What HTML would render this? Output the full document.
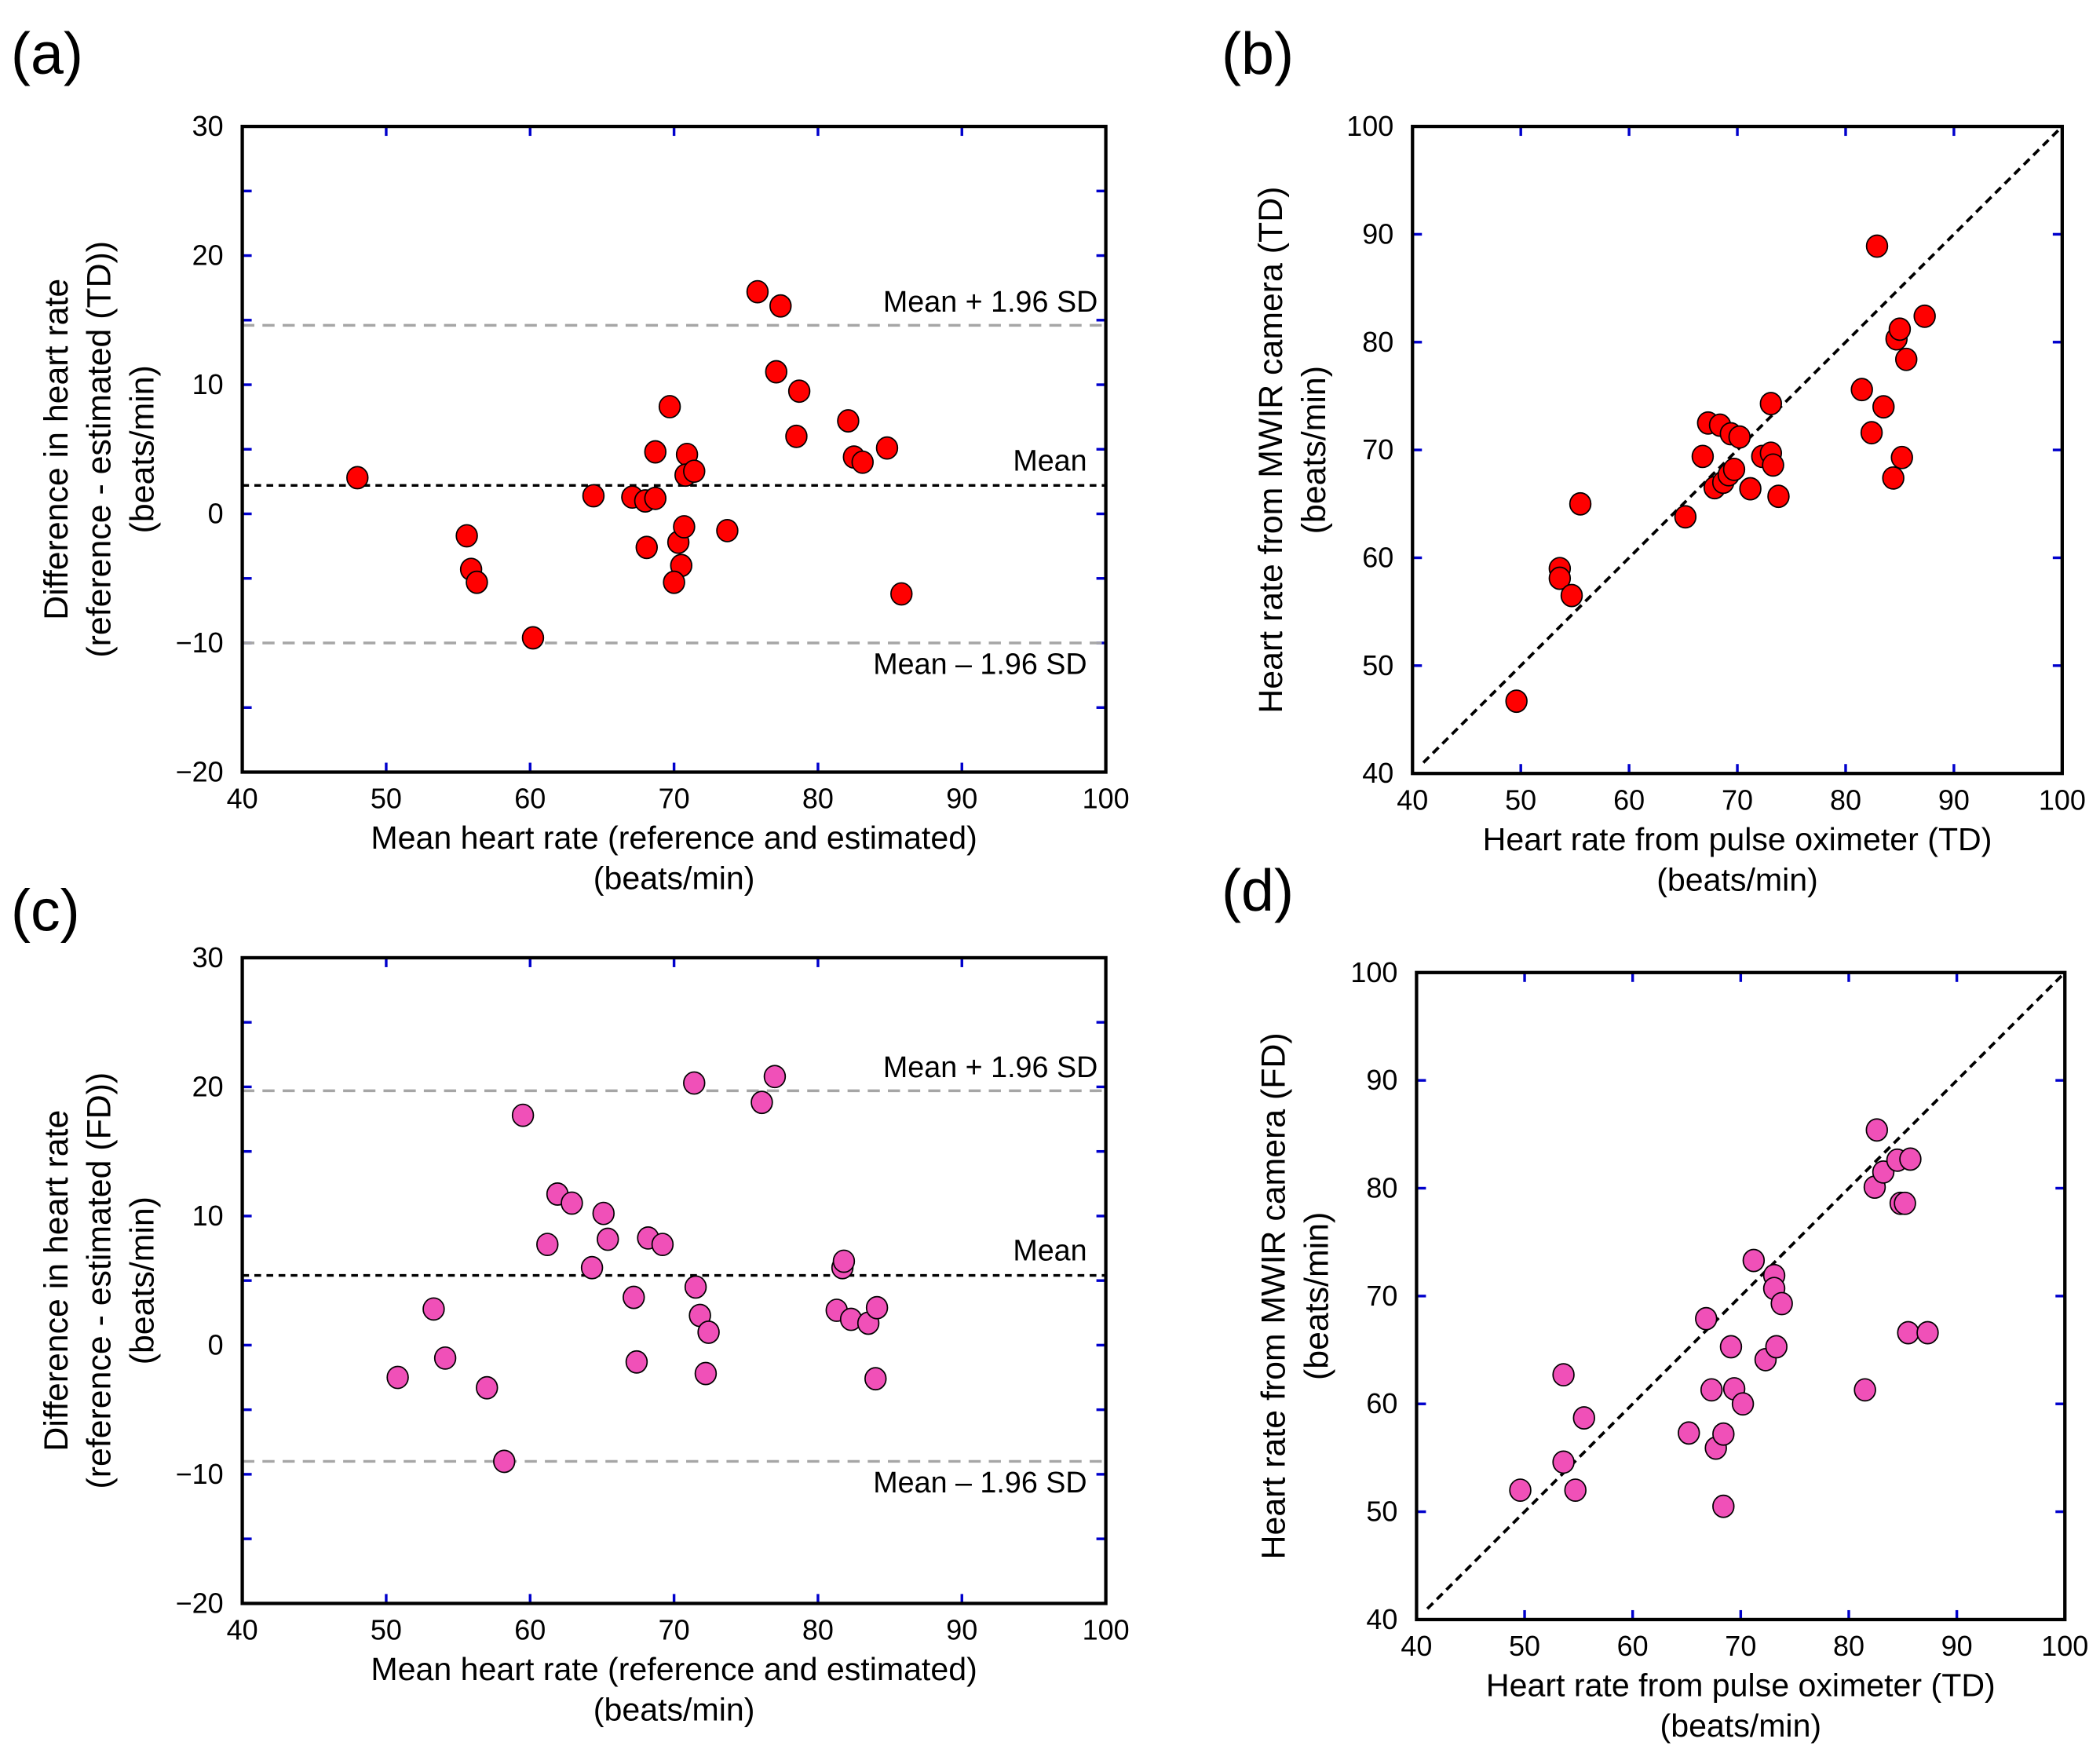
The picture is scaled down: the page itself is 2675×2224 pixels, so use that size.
<!DOCTYPE html>
<html><head><meta charset="utf-8"><style>html,body{margin:0;padding:0;background:#fff}svg{display:block}</style></head>
<body>
<svg id="fig" width="2675" height="2224" viewBox="0 0 1561 1298" xmlns="http://www.w3.org/2000/svg" font-family="Liberation Sans, sans-serif">
<rect width="1561" height="1298" fill="#fff"/>
</svg>
<script>
// Panel (a) data
const aX = [48,55.6,55.9,56.3,60.2,64.4,67.1,68,68.7,68.7,68.1,69.7,70.3,70.5,70,70.7,70.9,70.8,71.4,73.7,75.8,77.4,77.1,78.7,78.5,82.1,82.5,83.1,84.8,85.8];
const aY = [2.8,-1.7,-4.3,-5.3,-9.6,1.4,1.3,1,1.2,4.8,-2.6,8.3,-2.2,-4,-5.3,-1,4.6,3,3.3,-1.3,17.2,16.1,11,9.5,6,7.2,4.4,4,5.1,-6.2];
const aLines = [2.2,14.6,-10];
// Panel (c) data
const cX = [50.8,53.3,54.1,57,58.2,59.5,61.2,61.9,62.9,64.3,65.1,65.4,67.2,67.4,68.2,69.2,71.4,71.5,71.8,72.2,72.4,76.1,77,81.3,81.7,81.8,82.3,83.5,84.0,84.1];
const cY = [-2.5,2.8,-1,-3.3,-9,17.8,7.8,11.7,11,6,10.2,8.2,3.7,-1.3,8.3,7.8,20.3,4.5,2.3,-2.2,1,18.8,20.8,2.7,6,6.5,2,1.7,-2.6,2.9];
const cLines = [5.4,19.7,-9];
// Panel (b) data
const bX = [49.6,53.6,53.6,54.7,55.5,65.2,66.8,67.3,67.9,68.4,68.7,69.2,69.4,69.7,70.2,71.2,72.3,73.1,73.1,73.3,73.8,81.5,82.4,82.9,83.5,84.4,84.7,85,85.2,85.6,87.3];
const bY = [46.7,59,58.1,56.5,65,63.8,69.4,72.5,66.5,72.3,67,67.7,71.5,68.2,71.2,66.4,69.4,69.7,74.3,68.6,65.7,75.6,71.6,88.9,74,67.4,80.3,81.2,69.3,78.4,82.4];
// Panel (d) data
const dX = [49.6,53.6,53.6,54.7,55.5,65.2,66.8,67.3,67.7,68.4,68.4,69.1,69.4,70.2,71.2,72.3,73.1,73.1,73.3,73.8,81.5,82.4,82.6,83.2,84.5,84.8,85.2,85.5,85.7,87.3];
const dY = [52,62.7,54.6,52,58.7,57.3,67.9,61.3,55.9,57.2,50.5,65.3,61.4,60,73.3,64.1,71.9,70.7,65.3,69.3,61.3,80.1,85.4,81.5,82.6,78.6,78.6,66.6,82.7,66.6];
const blandXTicks = [40,50,60,70,80,90,100];
const blandYTicks = [-20,-10,0,10,20,30];
const corrTicks = [40,50,60,70,80,90,100];

const NS = "http://www.w3.org/2000/svg";
const svg = document.getElementById('fig');
function el(tag, attrs, parent, text){
  const e = document.createElementNS(NS, tag);
  for (const k in attrs) e.setAttribute(k, attrs[k]);
  if (text !== undefined) e.textContent = text;
  (parent||svg).appendChild(e);
  return e;
}

function panel(cfg){
  const g = el('g', {});
  
  
  const {x0,x1,y0,y1,xmin,xmax,ymin,ymax} = cfg;
  const sx = v => x0 + (v - xmin) / (xmax - xmin) * (x1 - x0);
  const sy = v => y1 - (v - ymin) / (ymax - ymin) * (y1 - y0);
  const tg = el('g', {stroke:'#0000cc','stroke-width':2}, g);
  
  
  cfg.xTicks.forEach(v => {
    const x = sx(v);
    el('line', {x1:x, x2:x, y1:y1, y2:y1-7}, tg);
    el('line', {x1:x, x2:x, y1:y0, y2:y0+7}, tg);
  });
  for (let v = ymin; v <= ymax + 1e-9; v += cfg.yMinor) {
    const y = sy(v);
    el('line', {x1:x0, x2:x0+7, y1:y, y2:y}, tg);
    el('line', {x1:x1, x2:x1-7, y1:y, y2:y}, tg);
  }
  cfg.xTicks.forEach(v => {
    const t = el('text', {x:sx(v), y:y1+27, 'font-size':21, 'text-anchor':'middle', fill:'#000'}, g, String(v));
    
    
  });
  cfg.yTicks.forEach(v => {
    const t = el('text', {x:x0-14, y:sy(v)+7, 'font-size':21, 'text-anchor':'end', fill:'#000'}, g, v < 0 ? '\u2212' + Math.abs(v) : String(v));
    
    
  });
  if (cfg.lines) {
    const [m, up, lo] = cfg.lines;
    [up, lo].forEach(v => {
      const l = el('line', {x1:x0, x2:x1, y1:sy(v), y2:sy(v), stroke:'#a6a6a6', 'stroke-width':2, 'stroke-dasharray':'9,6'}, g);
      
      
    });
    const ml = el('line', {x1:x0, x2:x1, y1:sy(m), y2:sy(m), stroke:'#000', 'stroke-width':2, 'stroke-dasharray':'5,4'}, g);
    
    
    const t1 = el('text', {x:x1-6, y:sy(up)-10, 'font-size':22, 'text-anchor':'end'}, g, 'Mean + 1.96 SD');
    
    
    const t2 = el('text', {x:x1-14, y:sy(m)-11, 'font-size':22, 'text-anchor':'end'}, g, 'Mean');
    
    
    const t3 = el('text', {x:x1-14, y:sy(lo)+23, 'font-size':22, 'text-anchor':'end'}, g, 'Mean \u2013 1.96 SD');
    
    
  } else {
    const dl = el('line', {x1:sx(xmin+1), x2:sx(xmax), y1:sy(ymin+1), y2:sy(ymax), stroke:'#000', 'stroke-width':2.2, 'stroke-dasharray':'6,4'}, g);
    
    
  }
  cfg.xs.forEach((xv, i) => {
    const c = el('ellipse', {cx:sx(xv), cy:sy(cfg.ys[i]), rx:7.8, ry:8.2, fill:cfg.color, stroke:'#000', 'stroke-width':1}, g);
    
    
  });
  const fr = el('rect', {x:x0, y:y0, width:x1-x0, height:y1-y0, fill:'none', stroke:'#000', 'stroke-width':2.5}, g);
  
  
  const cx = (x0 + x1) / 2;
  cfg.xTitle.forEach((s, i) => {
    const t = el('text', {x:cx, y:y1+57+i*30, 'font-size':24, 'text-anchor':'middle'}, g, s);
    
    
  });
  const cy = (y0 + y1) / 2;
  cfg.yTitle.forEach((s, i) => {
    const xx = cfg.yTitleX + i*32;
    const t = el('text', {x:xx, y:cy, 'font-size':25, 'text-anchor':'middle', transform:`rotate(-90 ${xx} ${cy})`}, g, s);
    
    
  });
  const pl = el('text', {x:cfg.lab[0], y:cfg.lab[1], 'font-size':44}, g, cfg.label);
  
  
}

const blandX = ['Mean heart rate (reference and estimated)', '(beats/min)'];
panel({name:'panel-a', x0:180, x1:822, y0:94, y1:574, xmin:40, xmax:100, ymin:-20, ymax:30, xTicks:blandXTicks, yTicks:blandYTicks, yMinor:5,
  xs:aX, ys:aY, lines:aLines, color:'#ff0000', xTitle:blandX,
  yTitle:['Difference in heart rate','(reference - estimated (TD))','(beats/min)'], yTitleX:50, label:'(a)', lab:[8,55]});
panel({name:'panel-c', x0:180, x1:822, y0:712, y1:1192, xmin:40, xmax:100, ymin:-20, ymax:30, xTicks:blandXTicks, yTicks:blandYTicks, yMinor:5,
  xs:cX, ys:cY, lines:cLines, color:'#f050b8', xTitle:blandX,
  yTitle:['Difference in heart rate','(reference - estimated (FD))','(beats/min)'], yTitleX:50, label:'(c)', lab:[8,692]});
panel({name:'panel-b', x0:1050, x1:1533, y0:94, y1:575, xmin:40, xmax:100, ymin:40, ymax:100, xTicks:corrTicks, yTicks:corrTicks, yMinor:10,
  xs:bX, ys:bY, lines:null, color:'#ff0000', xTitle:['Heart rate from pulse oximeter (TD)','(beats/min)'],
  yTitle:['Heart rate from MWIR camera (TD)','(beats/min)'], yTitleX:953, label:'(b)', lab:[908,55]});
panel({name:'panel-d', x0:1053, x1:1535, y0:723, y1:1204, xmin:40, xmax:100, ymin:40, ymax:100, xTicks:corrTicks, yTicks:corrTicks, yMinor:10,
  xs:dX, ys:dY, lines:null, color:'#f050b8', xTitle:['Heart rate from pulse oximeter (TD)','(beats/min)'],
  yTitle:['Heart rate from MWIR camera (FD)','(beats/min)'], yTitleX:955, label:'(d)', lab:[908,677]});
</script>
</body></html>
